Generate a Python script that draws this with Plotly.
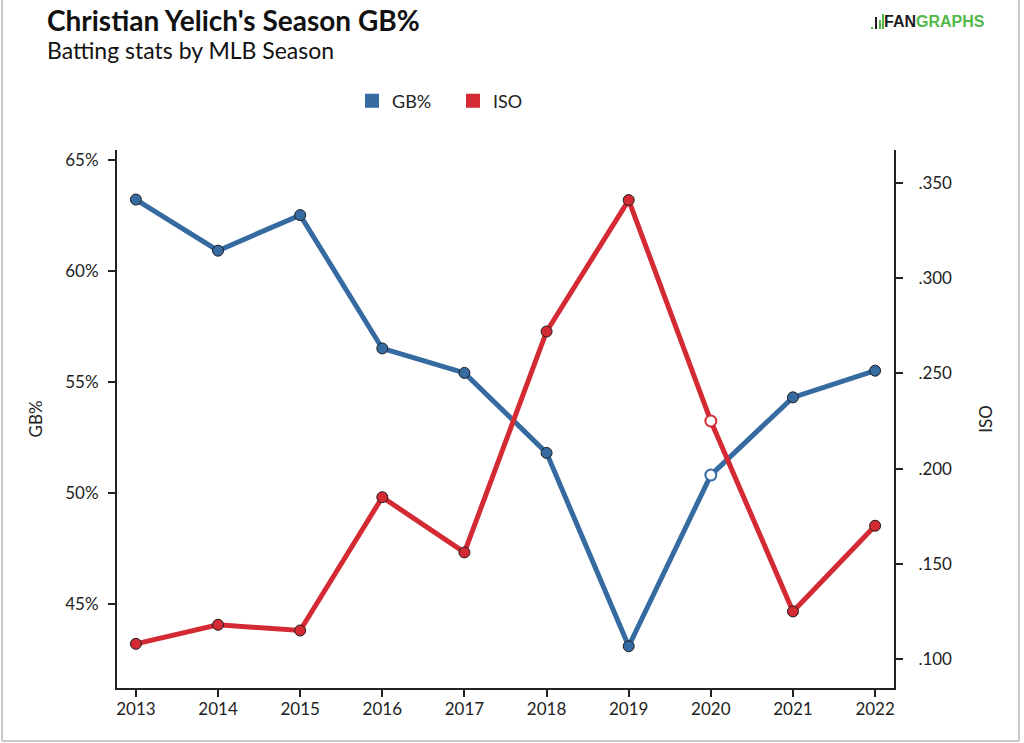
import plotly.graph_objects as go

# ---- data ----
seasons = [2013, 2014, 2015, 2016, 2017, 2018, 2019, 2020, 2021, 2022]
gb_pct = [63.2, 60.9, 62.5, 56.5, 55.4, 51.8, 43.1, 50.8, 54.3, 55.5]
iso = [0.108, 0.118, 0.115, 0.185, 0.156, 0.272, 0.341, 0.225, 0.125, 0.170]
gb_ticks = [45, 50, 55, 60, 65]
iso_ticks = [0.100, 0.150, 0.200, 0.250, 0.300, 0.350]
highlight_season = 2020

title_text = "Christian Yelich's Season GB%"
subtitle_text = "Batting stats by MLB Season"

BLUE = "#356ba0"
RED = "#d42a34"
DARK = "#1e1e1e"
FONT = "Lato"

W, H = 1024, 743
L, R, T, B = 117, 894, 150, 688


def px_x(px):
    return (px - L) / (R - L)


def px_y(py):
    return (B - py) / (B - T)


def marker_style(color):
    fills = ["white" if s == highlight_season else color for s in seasons]
    lines = [color if s == highlight_season else DARK for s in seasons]
    widths = [2 if s == highlight_season else 1 for s in seasons]
    return dict(size=11, color=fills, line=dict(color=lines, width=widths))


fig = go.Figure()
fig.add_trace(go.Scatter(
    x=seasons, y=gb_pct, name="GB%", mode="lines+markers",
    line=dict(color=BLUE, width=5), marker=marker_style(BLUE),
    showlegend=False, yaxis="y"))
fig.add_trace(go.Scatter(
    x=seasons, y=iso, name="ISO", mode="lines+markers",
    line=dict(color=RED, width=5), marker=marker_style(RED),
    showlegend=False, yaxis="y2"))
# legend swatches
fig.add_trace(go.Scatter(x=[None], y=[None], name="GB%", mode="markers",
                         marker=dict(symbol="square", size=14, color=BLUE)))
fig.add_trace(go.Scatter(x=[None], y=[None], name="ISO", mode="markers",
                         marker=dict(symbol="square", size=14, color=RED)))

axis_common = dict(showline=True, linecolor="#222", linewidth=2, ticks="outside",
                   ticklen=7, tickwidth=1.5, tickcolor="#222", showgrid=False,
                   zeroline=False, tickfont=dict(family=FONT, size=17, color="#222"))

fig.update_layout(
    width=W, height=H,
    margin=dict(l=L, r=W - R, t=T, b=H - B, autoexpand=False),
    paper_bgcolor="white", plot_bgcolor="white",
    font=dict(family=FONT, color="#222"),
    xaxis=dict(range=[2012.77, 2022.23], tickvals=seasons,
               ticktext=[str(s) for s in seasons], ticklabelstandoff=-2, **axis_common),
    yaxis=dict(range=[41.22, 65.43], tickvals=gb_ticks,
               ticktext=[f"{v}%" for v in gb_ticks], ticklabelstandoff=6,
               title=dict(text="GB%", font=dict(family=FONT, size=17, color="#222"), standoff=18),
               **axis_common),
    yaxis2=dict(range=[0.0848, 0.3673], tickvals=iso_ticks,
                ticktext=[f"{v:.3f}".lstrip("0") for v in iso_ticks],
                overlaying="y", side="right", ticklabelstandoff=12,
                title=dict(text="ISO", font=dict(family=FONT, size=17, color="#222"), standoff=29),
                **axis_common),
    legend=dict(orientation="h", x=px_x(453), xanchor="center", y=px_y(101), yanchor="middle",
                font=dict(family=FONT, size=18, color="#222"), bgcolor="rgba(0,0,0,0)",
                itemwidth=30, entrywidth=56, entrywidthmode="pixels"),
    annotations=[
        dict(text=f"<b>{title_text}</b>", x=px_x(45), y=px_y(20), xref="paper", yref="paper",
             xanchor="left", yanchor="middle", showarrow=False,
             font=dict(family=FONT, size=28, color="#111")),
        dict(text=subtitle_text, x=px_x(45), y=px_y(50), xref="paper", yref="paper",
             xanchor="left", yanchor="middle", showarrow=False,
             font=dict(family=FONT, size=23, color="#111")),
        dict(text="<b><span style='color:#1c1c1c'>FAN</span><span style='color:#52b848'>GRAPHS</span></b>",
             x=px_x(987), y=px_y(22), xref="paper", yref="paper",
             xanchor="right", yanchor="middle", showarrow=False,
             font=dict(family="Liberation Sans", size=16)),
    ],
    shapes=[
        # page frame
        dict(type="line", xref="paper", yref="paper", x0=px_x(2), x1=px_x(2), y0=px_y(0), y1=px_y(741),
             line=dict(color="#c8c8c8", width=2)),
        dict(type="line", xref="paper", yref="paper", x0=px_x(2), x1=px_x(1019), y0=px_y(741), y1=px_y(741),
             line=dict(color="#c8c8c8", width=2)),
        dict(type="line", xref="paper", yref="paper", x0=px_x(1019), x1=px_x(1019), y0=px_y(0), y1=px_y(741),
             line=dict(color="#c8c8c8", width=2)),
        # logo icon bars
        dict(type="rect", xref="paper", yref="paper", x0=px_x(871), x1=px_x(873), y0=px_y(29), y1=px_y(27),
             fillcolor="#52b848", line=dict(width=0)),
        dict(type="rect", xref="paper", yref="paper", x0=px_x(875), x1=px_x(877), y0=px_y(29), y1=px_y(17),
             fillcolor="#1c1c1c", line=dict(width=0)),
        dict(type="rect", xref="paper", yref="paper", x0=px_x(879), x1=px_x(881), y0=px_y(29), y1=px_y(20),
             fillcolor="#52b848", line=dict(width=0)),
        dict(type="rect", xref="paper", yref="paper", x0=px_x(882), x1=px_x(884), y0=px_y(29), y1=px_y(14),
             fillcolor="#52b848", line=dict(width=0)),
    ],
)

fig.write_html("out.html", config={"displayModeBar": False},
               post_script="document.body.style.margin='0px';document.body.style.overflow='hidden';")
